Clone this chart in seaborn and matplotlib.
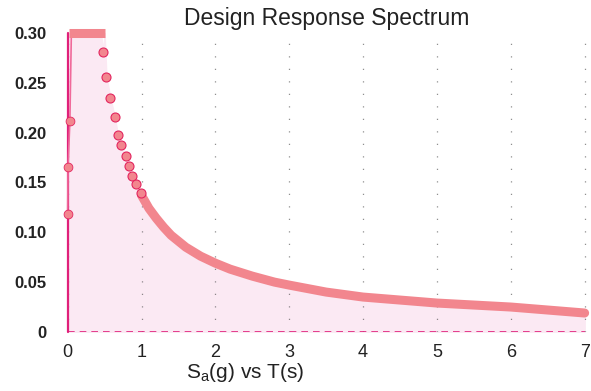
import matplotlib
matplotlib.use("Agg")
import matplotlib.pyplot as plt
import seaborn as sns
import pandas as pd

# values
# rising branch right at T = 0
rise_t = [0.0, 0.005, 0.03, 0.05]
rise_sa = [0.118, 0.165, 0.212, 0.300]

# flat top of the spectrum
plateau_t = [0.02, 0.05, 0.1, 0.15, 0.2, 0.25, 0.3, 0.35, 0.4, 0.45, 0.5]
plateau_sa = [0.300, 0.300, 0.300, 0.300, 0.300, 0.300, 0.300, 0.300, 0.300, 0.300, 0.300]

# separate markers on the start of the descending branch
drop_t = [0.48, 0.525, 0.578, 0.636, 0.68, 0.727, 0.785, 0.83, 0.875, 0.93, 0.995]
drop_sa = [0.281, 0.256, 0.235, 0.216, 0.198, 0.188, 0.176, 0.166, 0.156, 0.148, 0.139]

# dense tail, looks like a thick band
tail_t = [1.0, 1.1, 1.2, 1.3, 1.4, 1.5, 1.6, 1.8, 2.0, 2.2, 2.5, 2.8, 3.0,
          3.5, 4.0, 4.5, 5.0, 5.5, 6.0, 6.5, 7.0]
tail_sa = [0.137, 0.124, 0.114, 0.105, 0.097, 0.091, 0.085, 0.076, 0.069,
           0.063, 0.056, 0.050, 0.047, 0.040, 0.035, 0.032, 0.029, 0.027,
           0.025, 0.022, 0.019]

x_ticks = [0, 1, 2, 3, 4, 5, 6, 7]
y_ticks = [0, 0.05, 0.10, 0.15, 0.20, 0.25, 0.30]
y_labels = ["0", "0.05", "0.10", "0.15", "0.20", "0.25", "0.30"]

sns.set_style("white")
plt.rcParams["font.family"] = ["Liberation Sans", "DejaVu Sans"]

curve = pd.DataFrame({
    "T": rise_t + plateau_t + drop_t + tail_t,
    "Sa": rise_sa + plateau_sa + drop_sa + tail_sa,
}).sort_values("T")

fig = plt.figure(figsize=(5.91, 3.91), dpi=100)
ax = fig.add_axes([0.112, 0.151, 0.881, 0.765])

pink = "#f2868e"
edge = "#e3245e"
magenta = "#e0207a"

ax.fill_between(curve["T"], 0, curve["Sa"], color="#fbe9f3", zorder=0)

# sparse dotted grid
for xt in x_ticks:
    ax.axvline(xt, color="#444444", lw=0.9, dashes=(1, 9), alpha=0.6, zorder=1)

# axis-like magenta lines
ax.plot([0, 7], [0, 0], color=magenta, lw=1.2, dashes=(4, 3), zorder=2)
ax.plot([0, 0], [0, 0.30], color=magenta, lw=1.6, zorder=3, clip_on=False)

rise = pd.DataFrame({"T": rise_t, "Sa": rise_sa})
sns.lineplot(data=rise, x="T", y="Sa", ax=ax, color="#f06a9a", lw=1.2,
             sort=False, zorder=3, clip_on=False)
sns.scatterplot(data=rise.iloc[:3], x="T", y="Sa", ax=ax, color=pink,
                edgecolor=edge, linewidth=0.6, s=40, zorder=5, clip_on=False)

plateau = pd.DataFrame({"T": plateau_t, "Sa": plateau_sa})
sns.lineplot(data=plateau, x="T", y="Sa", ax=ax, color=pink, lw=6.5,
             solid_capstyle="butt", zorder=4, clip_on=False)

tail = pd.DataFrame({"T": tail_t, "Sa": tail_sa})
sns.lineplot(data=tail, x="T", y="Sa", ax=ax, color=pink, lw=6.5,
             solid_capstyle="round", zorder=4, clip_on=False)

drop = pd.DataFrame({"T": drop_t, "Sa": drop_sa})
sns.scatterplot(data=drop, x="T", y="Sa", ax=ax, color=pink,
                edgecolor=edge, linewidth=0.8, s=42, zorder=5)

ax.set_xlim(-0.02, 7.03)
ax.set_ylim(0, 0.30)
ax.set_xticks(x_ticks)
ax.set_xticklabels([str(v) for v in x_ticks], fontsize=13, color="#222222")
ax.set_yticks(y_ticks)
ax.set_yticklabels(y_labels, fontsize=12, fontweight="bold", color="#222222")
ax.tick_params(axis="both", length=0)
ax.tick_params(axis="x", pad=9)
ax.tick_params(axis="y", pad=14)

for s in ax.spines.values():
    s.set_visible(False)

ax.set_title("Design Response Spectrum", fontsize=16.5, color="#222222", pad=6)
ax.set_xlabel("S$_\\mathregular{a}$(g) vs T(s)", fontsize=15, color="#222222")
ax.xaxis.set_label_coords(0.344, -0.097)
ax.set_ylabel("")

fig.savefig("out.png", dpi=100)
